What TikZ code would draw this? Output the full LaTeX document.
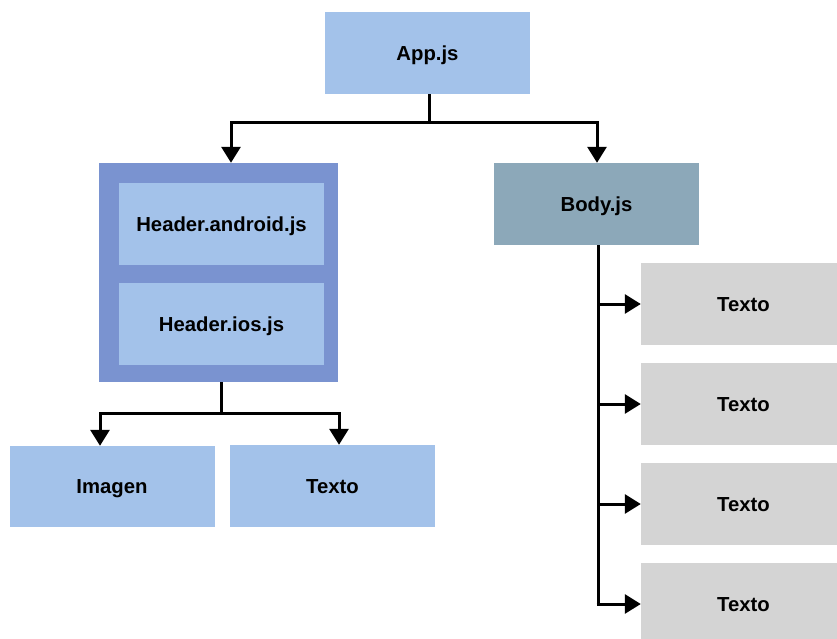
\documentclass[tikz,border=0pt]{standalone}
\usepackage{fontspec}
\setmainfont{Liberation Sans}
\usetikzlibrary{arrows.meta}
\definecolor{lblue}{HTML}{A3C2EA}
\definecolor{dblue}{HTML}{7A93D0}
\definecolor{slate}{HTML}{8CA8B9}
\definecolor{lgray}{HTML}{D4D4D4}
\tikzset{
  box/.style={minimum width=205pt, minimum height=82pt, inner sep=0pt, text height=14.5pt, text depth=0pt, font=\fontsize{20.3}{24}\selectfont\bfseries, text=black},
  conn/.style={line width=3pt, draw=black},
  arr/.style={conn, -{Triangle[length=16pt,width=19pt]}},
}
\begin{document}
\begin{tikzpicture}[x=1pt,y=1pt]
\useasboundingbox (0,0) rectangle (837,-639);
% nodes
\node[box, fill=lblue] (app) at (427.5,-53) {App.js};
\node[fill=dblue, minimum width=239pt, minimum height=219pt, inner sep=0pt] (header) at (218.5,-272.5) {};
\node[box, fill=lblue] (android) at (221.5,-224) {Header.android.js};
\node[box, fill=lblue] (ios) at (221.5,-324) {Header.ios.js};
\node[box, fill=slate] (body) at (596.5,-204) {Body.js};
\node[box, fill=lblue, minimum height=81pt] (imagen) at (112,-486.5) {Imagen};
\node[box, fill=lblue] (texto) at (332.5,-486) {Texto};
\node[box, fill=lgray] (t1) at (743.5,-304) {Texto};
\node[box, fill=lgray] (t2) at (743.5,-404) {Texto};
\node[box, fill=lgray] (t3) at (743.5,-504) {Texto};
\node[box, fill=lgray] (t4) at (743.5,-604) {Texto};
% connectors
\coordinate (j1) at ([xshift=1.5pt]app.south |- 0,-123);
\draw[conn] ([xshift=1.5pt]app.south) -- (j1);
\draw[arr] (j1) -| ([xshift=12.5pt]header.north);
\draw[arr] (j1) -| ([xshift=0.5pt]body.north);
\coordinate (j2) at ([xshift=2.5pt]header.south |- 0,-413);
\draw[conn] ([xshift=2.5pt]header.south) -- (j2);
\draw[arr] (j2) -| ([xshift=-12pt]imagen.north);
\draw[arr] (j2) -| ([xshift=6.5pt]texto.north);
\coordinate (b0) at ([xshift=1.5pt]body.south);
\draw[conn] (b0) -- (b0 |- t4.west);
\draw[arr] (b0 |- t1.west) -- (t1.west);
\draw[arr] (b0 |- t2.west) -- (t2.west);
\draw[arr] (b0 |- t3.west) -- (t3.west);
\draw[arr] ([xshift=-1.5pt]b0 |- t4.west) -- (t4.west);
\end{tikzpicture}
\end{document}
